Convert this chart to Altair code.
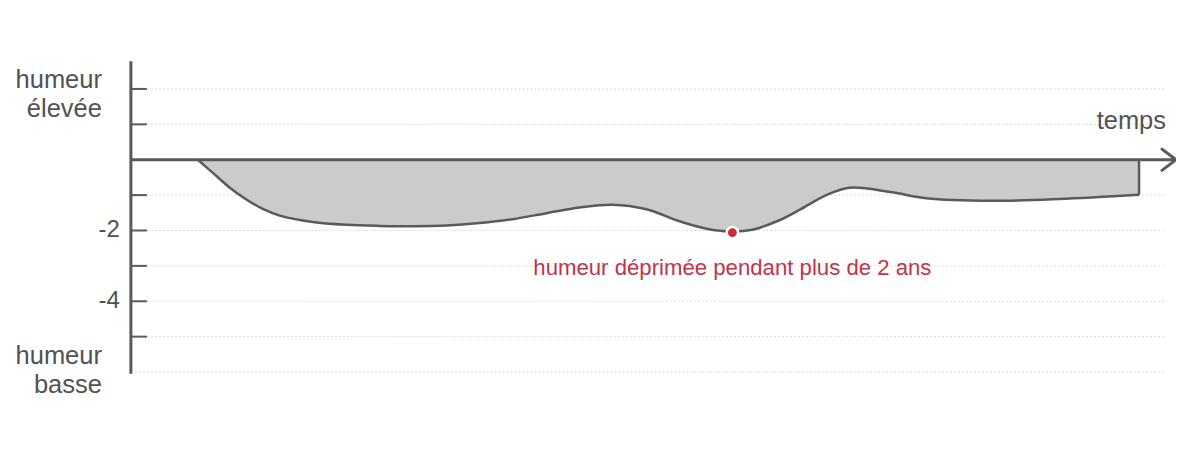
import altair as alt
import pandas as pd

# ---- data ----
curve_x = [67, 82, 99, 116, 132, 149, 182, 216, 249, 282, 316, 349, 382, 416,
           449, 482, 516, 549, 576, 602, 622, 649, 669, 696, 719, 762, 796,
           862, 929, 1009]
curve_y = [0, -0.37, -0.79, -1.13, -1.39, -1.58, -1.76, -1.84, -1.87, -1.88,
           -1.86, -1.79, -1.68, -1.51, -1.35, -1.27, -1.40, -1.74, -1.95, -2.03,
           -1.98, -1.71, -1.42, -1.00, -0.79, -0.92, -1.09, -1.16, -1.11, -0.99]

end_x = 1009
end_y = -0.99

grid_y = [2, 1, -1, -2, -3, -4, -5, -6]
grid_x_start = 4
grid_x_end = 1036

tick_y = [2, 1, -1, -2, -3, -4, -5]
tick_len = 16

num_label_y = [-2, -4]
num_label_text = ["-2", "-4"]
num_label_x = -11

side_label_y = [2.26, -5.56]
side_label_text = ["humeur\nélevée", "humeur\nbasse"]
side_label_x = -29

time_label = "temps"
time_label_x = 1036
time_label_y = 1.1

yaxis_bottom = -6.05
yaxis_top = 2.78
xaxis_end = 1044

dot_x = 602
dot_y = -2.06
note_text = "humeur déprimée pendant plus de 2 ans"
note_y = -3.05

arrow_x = [1032, 1046, 1032]
arrow_y = [0.30, 0, -0.30]
arrow_order = [0, 1, 2]

axis_gray = "#5a5a5a"
text_gray = "#525252"
font = "Liberation Sans"

# ---- scales ----
xs = alt.Scale(domain=[0, 1046], nice=False, zero=False)
ys = alt.Scale(domain=[-8, 4], nice=False, zero=False)


def X(f):
    return alt.X(f, scale=xs, axis=None)


def Y(f):
    return alt.Y(f, scale=ys, axis=None)


grid_df = pd.DataFrame({"y": grid_y, "x1": grid_x_start, "x2": grid_x_end})
tick_df = pd.DataFrame({"y": tick_y, "x1": 0, "x2": tick_len})
curve_df = pd.DataFrame({"x": curve_x, "y": curve_y, "z": 0.0})
edge_df = pd.DataFrame({"x": [end_x], "y": [end_y], "z": [0.0]})
xaxis_df = pd.DataFrame({"x1": [0], "x2": [xaxis_end], "y": [0.0]})
yaxis_df = pd.DataFrame({"x": [0], "y1": [yaxis_bottom], "y2": [yaxis_top]})
arrow_df = pd.DataFrame({"x": arrow_x, "y": arrow_y, "o": arrow_order})
num_df = pd.DataFrame({"y": num_label_y, "t": num_label_text, "x": num_label_x})
side_df = pd.DataFrame({"y": side_label_y, "t": side_label_text, "x": side_label_x})
time_df = pd.DataFrame({"x": [time_label_x], "y": [time_label_y], "t": [time_label]})
dot_df = pd.DataFrame({"x": [dot_x], "y": [dot_y]})
note_df = pd.DataFrame({"x": [dot_x], "y": [note_y], "t": [note_text]})

interp = "catmull-rom"

grid = alt.Chart(grid_df).mark_rule(color="#d9d9d9", strokeWidth=1, strokeDash=[2, 2]).encode(
    y=Y("y:Q"), x=X("x1:Q"), x2="x2:Q")

area = alt.Chart(curve_df).mark_area(interpolate=interp, color="#cbcbcb", opacity=1).encode(
    x=X("x:Q"), y=Y("y:Q"), y2="z:Q")

line = alt.Chart(curve_df).mark_line(interpolate=interp, color=axis_gray, strokeWidth=2.5).encode(
    x=X("x:Q"), y=Y("y:Q"))

edge = alt.Chart(edge_df).mark_rule(color=axis_gray, strokeWidth=2.5).encode(
    x=X("x:Q"), y=Y("y:Q"), y2="z:Q")

xaxis = alt.Chart(xaxis_df).mark_rule(color=axis_gray, strokeWidth=3).encode(
    y=Y("y:Q"), x=X("x1:Q"), x2="x2:Q")

arrow = alt.Chart(arrow_df).mark_line(color=axis_gray, strokeWidth=3, strokeCap="round",
                                      strokeJoin="miter").encode(
    x=X("x:Q"), y=Y("y:Q"), order="o:Q")

yaxis = alt.Chart(yaxis_df).mark_rule(color=axis_gray, strokeWidth=3).encode(
    x=X("x:Q"), y=Y("y1:Q"), y2="y2:Q")

ticks = alt.Chart(tick_df).mark_rule(color=axis_gray, strokeWidth=2).encode(
    y=Y("y:Q"), x=X("x1:Q"), x2="x2:Q")

num_labels = alt.Chart(num_df).mark_text(align="right", baseline="middle", fontSize=24,
                                         font=font, color=text_gray).encode(
    y=Y("y:Q"), x=X("x:Q"), text="t:N")

side_labels = alt.Chart(side_df).mark_text(align="right", baseline="middle", fontSize=25.5,
                                           font=font, color=text_gray, lineBreak="\n",
                                           lineHeight=29).encode(
    y=Y("y:Q"), x=X("x:Q"), text="t:N")

time_text = alt.Chart(time_df).mark_text(align="right", baseline="middle", fontSize=25.5,
                                         font=font, color=text_gray).encode(
    x=X("x:Q"), y=Y("y:Q"), text="t:N")

dot = alt.Chart(dot_df).mark_point(filled=True, size=130, color="#d0283c", stroke="white",
                                   strokeWidth=2.5, opacity=1).encode(
    x=X("x:Q"), y=Y("y:Q"))

note = alt.Chart(note_df).mark_text(align="center", baseline="middle", fontSize=22.2,
                                    font=font, color="#c0354b").encode(
    x=X("x:Q"), y=Y("y:Q"), text="t:N")

chart = alt.layer(
    grid, area, line, edge, xaxis, arrow, yaxis, ticks,
    num_labels, side_labels, time_text, dot, note
).properties(
    width=1046, height=425,
    padding={"left": 123, "top": 10, "right": 0, "bottom": 0},
    autosize=alt.AutoSizeParams(type="none"),
    background="white",
).configure_view(stroke=None)

chart.save("out.html", embed_options={"renderer": "svg", "actions": False})
